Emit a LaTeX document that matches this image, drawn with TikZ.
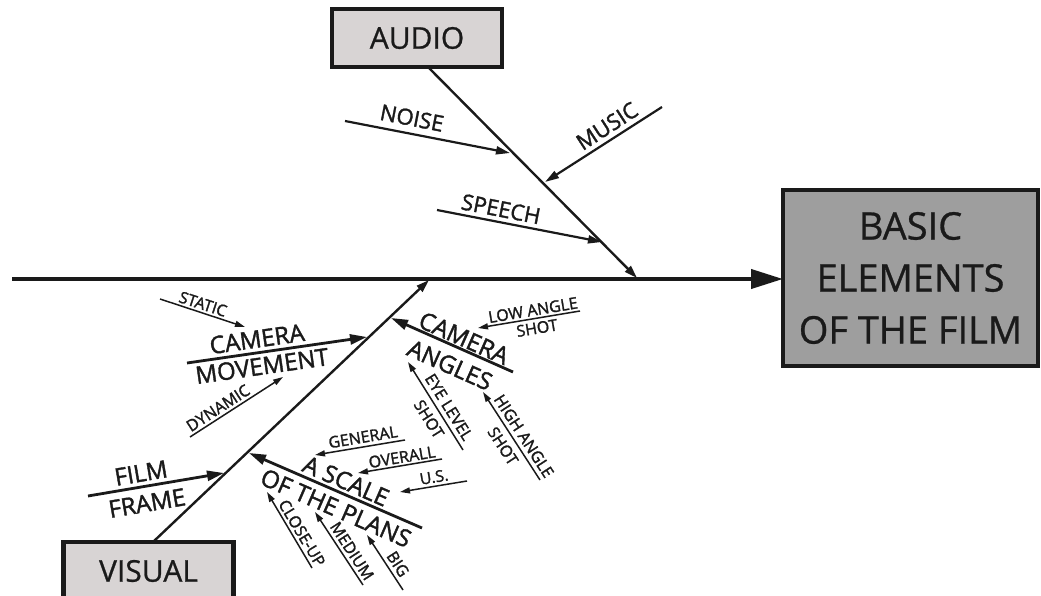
\documentclass[tikz,border=0pt]{standalone}
\usepackage{fontspec}
\setmainfont{Open Sans}
\newfontfamily\heavy{Open Sans}[FakeBold=1.6]
\newfontfamily\medw{Open Sans}[FakeBold=0.8]
\usetikzlibrary{arrows.meta}
\definecolor{ink}{HTML}{1A1A1A}
\definecolor{lightbox}{HTML}{D8D4D4}
\definecolor{darkbox}{HTML}{9E9E9E}
\begin{document}
\begin{tikzpicture}[x=1pt,y=-1pt,
  spine/.style={draw=ink,line width=4pt,-{Triangle[length=32pt,width=19pt]}},
  subspine/.style={draw=ink,line width=2.4pt,-{Triangle[length=13pt,width=8pt]}},
  bigbone/.style={draw=ink,line width=2.8pt,-{Triangle[length=17pt,width=10pt]}},
  midbone/.style={draw=ink,line width=2.2pt,-{Triangle[length=14pt,width=8pt]}},
  smallbone/.style={draw=ink,line width=1.5pt,-{Triangle[length=10pt,width=6pt]}},
  catbox/.style={draw=ink,line width=4.5pt,fill=lightbox,minimum width=170pt,minimum height=58pt,inner sep=0pt,outer sep=0pt,text=ink,font=\medw\fontsize{30}{34}\selectfont},
  headbox/.style={draw=ink,line width=4pt,fill=darkbox,minimum width=255pt,minimum height=176pt,outer sep=0pt,align=center,text=ink,font=\medw\fontsize{38}{52}\selectfont},
  lblL/.style={text=ink,inner sep=0pt,font=\heavy\fontsize{24}{28}\selectfont},
  lblM/.style={text=ink,inner sep=0pt,font=\heavy\fontsize{22}{26}\selectfont},
  lblS/.style={text=ink,inner sep=0pt,font=\heavy\fontsize{16}{19}\selectfont}]
\useasboundingbox (0,0) rectangle (1041,596);

% head and category boxes
\node[headbox] (head) at (910.5,278) {BASIC\\ELEMENTS\\OF THE FILM};
\node[catbox] (audio) at (417,38) {AUDIO};
\node[catbox] (visual) at (148.5,571) {VISUAL};

% main spine
\coordinate (s0) at (12,279);
\draw[spine] (s0) -- (head.west |- s0);

% audio branch
\coordinate (a0) at (428,67);
\coordinate (a1) at (637,278);
\draw[subspine] (a0) -- (a1);
\coordinate (noise0) at (345,121); \coordinate (noise1) at (510,153);
\draw[midbone] (noise0) -- (noise1);
\node[lblM,rotate=-11] (noise) at (412,118) {NOISE};
\coordinate (music0) at (662,107); \coordinate (music1) at (545,182);
\draw[midbone] (music0) -- (music1);
\node[lblM,rotate=33] (music) at (607,126) {MUSIC};
\coordinate (speech0) at (437,210); \coordinate (speech1) at (602,242);
\draw[midbone] (speech0) -- (speech1);
\node[lblM,rotate=-11] (speech) at (501,209) {SPEECH};

% visual branch
\coordinate (v0) at (153,542);
\coordinate (v1) at (429,280);
\draw[subspine] (v0) -- (v1);

% camera movement
\coordinate (cm0) at (187,363); \coordinate (cm1) at (367,337);
\draw[bigbone] (cm0) -- (cm1);
\node[lblL,rotate=8.2] (cmA) at (257,339) {CAMERA};
\node[lblL,rotate=8.2] (cmB) at (262,366) {MOVEMENT};
\coordinate (st0) at (160,299); \coordinate (st1) at (245,327);
\draw[smallbone] (st0) -- (st1);
\node[lblS,rotate=-18] (static) at (203,304) {STATIC};
\coordinate (dy0) at (190,437); \coordinate (dy1) at (283,377);
\draw[smallbone] (dy0) -- (dy1);
\node[lblS,rotate=33] (dynamic) at (218,408) {DYNAMIC};

% camera angles
\coordinate (ca0) at (513,372); \coordinate (ca1) at (391,318);
\draw[bigbone] (ca0) -- (ca1);
\node[lblL,rotate=-24] (caA) at (464,338) {CAMERA};
\node[lblL,rotate=-24] (caB) at (450,365) {ANGLES};
\coordinate (lo0) at (580,311); \coordinate (lo1) at (478,328);
\draw[smallbone] (lo0) -- (lo1);
\node[lblS,rotate=9.5] (lowA) at (533,310) {LOW ANGLE};
\node[lblS,rotate=9.5] (lowB) at (537,328) {SHOT};
\coordinate (ey0) at (463,450); \coordinate (ey1) at (408,362);
\draw[smallbone] (ey0) -- (ey1);
\node[lblS,rotate=-58] (eyeA) at (449,407) {EYE LEVEL};
\node[lblS,rotate=-58] (eyeB) at (429,419) {SHOT};
\coordinate (hi0) at (540,480); \coordinate (hi1) at (483,392);
\draw[smallbone] (hi0) -- (hi1);
\node[lblS,rotate=-57] (highA) at (524,436) {HIGH ANGLE};
\node[lblS,rotate=-57] (highB) at (503,446) {SHOT};

% scale of the plans
\coordinate (sc0) at (422,528); \coordinate (sc1) at (249,453);
\draw[bigbone] (sc0) -- (sc1);
\node[lblL,rotate=-23.6] (scA) at (346,481) {A SCALE};
\node[lblL,rotate=-23.6] (scB) at (336,508) {OF THE PLANS};
\coordinate (ge0) at (405,440); \coordinate (ge1) at (315,455);
\draw[smallbone] (ge0) -- (ge1);
\node[lblS,rotate=9.5] (general) at (363,437) {GENERAL};
\coordinate (ov0) at (442,459); \coordinate (ov1) at (358,473);
\draw[smallbone] (ov0) -- (ov1);
\node[lblS,rotate=9.5] (overall) at (402,457) {OVERALL};
\coordinate (us0) at (467,481); \coordinate (us1) at (400,492);
\draw[smallbone] (us0) -- (us1);
\node[lblS,rotate=9.5] (us) at (434,477) {U.S.};
\coordinate (cl0) at (312,568); \coordinate (cl1) at (267,492);
\draw[smallbone] (cl0) -- (cl1);
\node[lblS,rotate=-59] (closeup) at (302,533) {CLOSE-UP};
\coordinate (me0) at (363,585); \coordinate (me1) at (315,512);
\draw[smallbone] (me0) -- (me1);
\node[lblS,rotate=-57] (medium) at (352,551) {MEDIUM};
\coordinate (bg0) at (403,590); \coordinate (bg1) at (367,535);
\draw[smallbone] (bg0) -- (bg1);
\node[lblS,rotate=-57] (big) at (398,564) {BIG};

% film frame
\coordinate (ff0) at (88,496); \coordinate (ff1) at (224,473);
\draw[bigbone] (ff0) -- (ff1);
\node[lblL,rotate=9.7] (ffA) at (141,473) {FILM};
\node[lblL,rotate=9.7] (ffB) at (147,503) {FRAME};
\end{tikzpicture}
\end{document}
